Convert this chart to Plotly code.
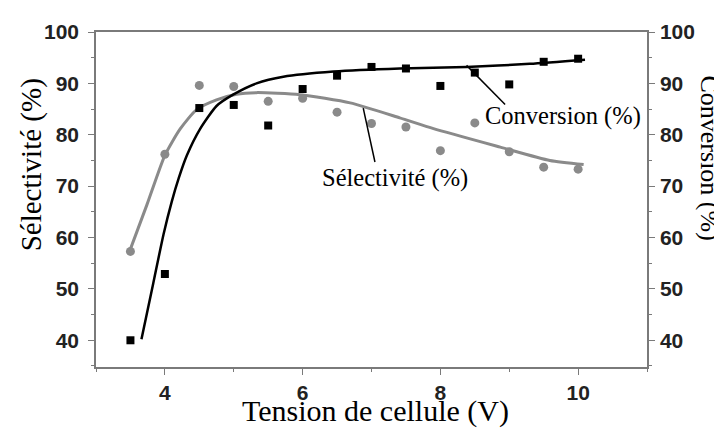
import plotly.graph_objs as go

# measured points
tension = [3.5, 4, 4.5, 5, 5.5, 6, 6.5, 7, 7.5, 8, 8.5, 9, 9.5, 10]
conversion = [40.0, 52.9, 85.2, 85.8, 81.8, 88.9, 91.5, 93.2, 92.9, 89.5, 92.1, 89.8, 94.2, 94.8]
selectivite = [57.3, 76.2, 89.6, 89.4, 86.5, 87.1, 84.4, 82.2, 81.5, 76.9, 82.3, 76.7, 73.7, 73.3]

# fitted curves
conv_fit_x = [3.66, 3.83, 3.98, 4.10, 4.20, 4.32, 4.51, 4.75, 4.99, 5.33, 5.72, 6.45, 7.41, 8.38, 9.3, 10.1]
conv_fit_y = [40.2, 51.0, 60.6, 67.0, 71.5, 76.0, 81.1, 85.6, 87.8, 90.0, 91.3, 92.3, 92.9, 93.2, 93.8, 94.6]
sel_fit_x = [3.49, 3.74, 4.0, 4.22, 4.46, 4.75, 5.04, 5.33, 5.96, 6.69, 7.41, 7.90, 8.87, 9.59, 10.08]
sel_fit_y = [57.4, 66.4, 76.0, 81.1, 84.9, 86.8, 87.9, 88.2, 87.8, 86.2, 83.3, 81.2, 77.6, 75.0, 74.2]

x_ticks = [4, 6, 8, 10]
y_ticks = [40, 50, 60, 70, 80, 90, 100]

GRAY = "#8a8a8a"
AXIS = "#7a7a7a"
tick_font = dict(family="Liberation Sans", size=21, color="#222222", weight="bold")
serif = "Liberation Serif"

fig = go.Figure()
fig.add_trace(go.Scatter(x=sel_fit_x, y=sel_fit_y, mode="lines",
                         line=dict(color=GRAY, width=3, shape="spline", smoothing=0.6)))
fig.add_trace(go.Scatter(x=conv_fit_x, y=conv_fit_y, mode="lines", yaxis="y2",
                         line=dict(color="black", width=2.5, shape="spline", smoothing=0.6)))
fig.add_trace(go.Scatter(x=tension, y=selectivite, mode="markers",
                         marker=dict(symbol="circle", size=9, color=GRAY)))
fig.add_trace(go.Scatter(x=tension, y=conversion, mode="markers", yaxis="y2",
                         marker=dict(symbol="square", size=8, color="black")))

axis_common = dict(showgrid=False, zeroline=False, showline=True, linecolor=AXIS, linewidth=1.5,
                   ticks="outside", ticklen=6, tickcolor=AXIS, tickwidth=1.2, tickfont=tick_font)

# page body keeps its default 8px margin, so the figure is shrunk by that much
fig.update_layout(
    width=714, height=424,
    margin=dict(l=88, r=75, t=20, b=65),
    paper_bgcolor="white", plot_bgcolor="white",
    showlegend=False,
    xaxis=dict(range=[3, 11], tickvals=x_ticks, mirror=True, ticklabelstandoff=0,
               minor=dict(dtick=1, ticks="outside", ticklen=3, tickcolor=AXIS), **axis_common),
    yaxis=dict(range=[34.8, 100], tickvals=y_ticks, ticklabelstandoff=5,
               minor=dict(dtick=5, ticks="outside", ticklen=3, tickcolor=AXIS), **axis_common),
    yaxis2=dict(range=[34.8, 100], tickvals=y_ticks, overlaying="y", side="right", ticklabelstandoff=1,
                minor=dict(dtick=5, ticks="outside", ticklen=3, tickcolor=AXIS), **axis_common),
)

# pointer lines for the curve labels
fig.add_shape(type="line", x0=8.38, y0=93.5, x1=8.94, y1=85.9, line=dict(color="black", width=1.5))
fig.add_shape(type="line", x0=6.88, y0=85.2, x1=7.05, y1=74.7, line=dict(color="black", width=1.5))

fig.add_annotation(x=9.78, y=83.7, text="Conversion (%)", showarrow=False,
                   font=dict(family=serif, size=24.5, color="black"))
fig.add_annotation(x=7.34, y=71.5, text="Sélectivité (%)", showarrow=False,
                   font=dict(family=serif, size=24.5, color="black"))

# axis titles (the right one runs off the edge, as in the original)
fig.add_annotation(xref="paper", yref="paper", x=-0.118, y=0.605, xanchor="center", yanchor="middle",
                   text="Sélectivité (%)", textangle=-90, showarrow=False,
                   font=dict(family=serif, size=29, color="black"))
fig.add_annotation(xref="paper", yref="paper", x=1.114, y=0.623, xanchor="center", yanchor="middle",
                   text="Conversion (%)", textangle=90, showarrow=False,
                   font=dict(family=serif, size=26, color="black"))
fig.add_annotation(xref="paper", yref="paper", x=0.508, y=-0.131, xanchor="center", yanchor="middle",
                   text="Tension de cellule (V)", showarrow=False,
                   font=dict(family=serif, size=30, color="black"))

fig.write_html("out.html")
